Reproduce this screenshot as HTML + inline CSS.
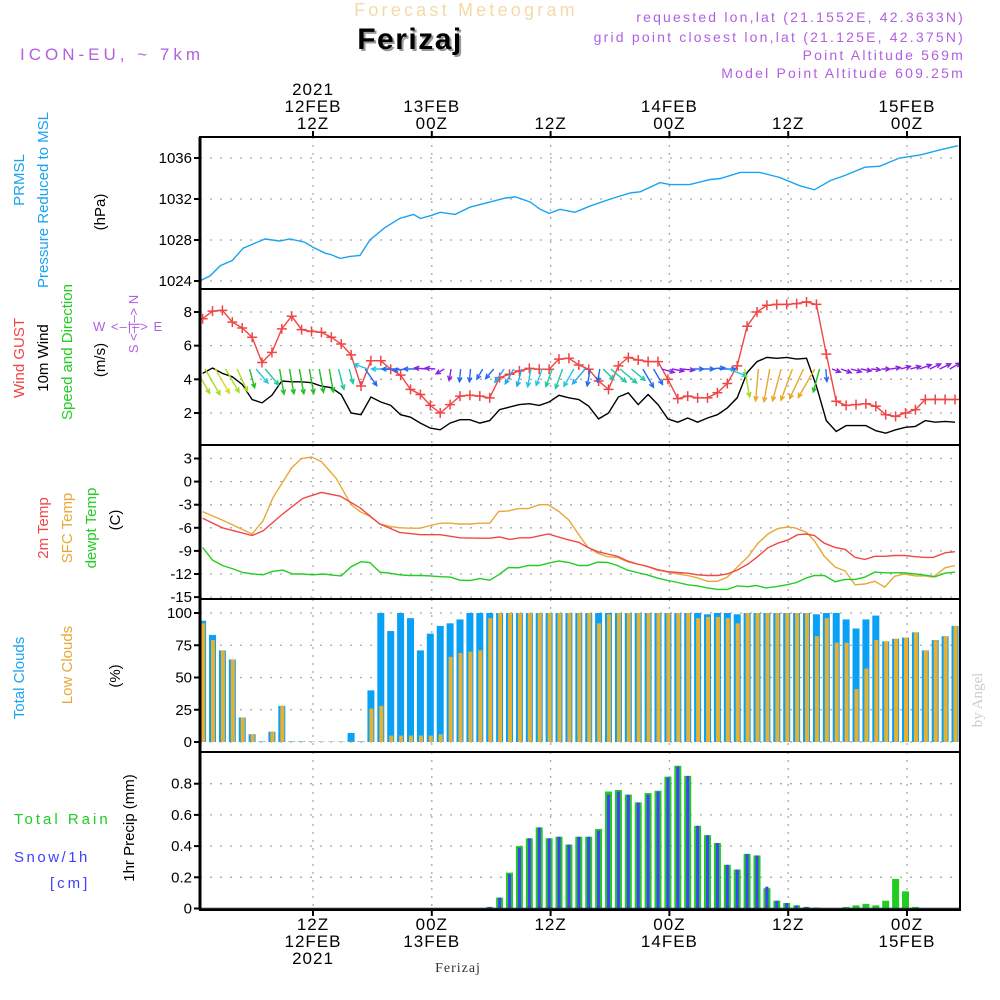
<!DOCTYPE html>
<html><head><meta charset="utf-8"><style>
body{margin:0;background:#fff;}
svg{display:block;font-family:"Liberation Sans",sans-serif;}
</style></head><body>
<svg id="chart" width="1000" height="1000" viewBox="0 0 1000 1000" xmlns="http://www.w3.org/2000/svg">
<text x="466" y="16" text-anchor="middle" font-size="18" fill="#f5d9a8" letter-spacing="3.2">Forecast Meteogram</text>
<text x="412" y="51" text-anchor="middle" font-size="30" font-weight="bold" fill="#999" letter-spacing="1.5">Ferizaj</text>
<text x="410" y="49" text-anchor="middle" font-size="30" font-weight="bold" fill="#000" letter-spacing="1.5">Ferizaj</text>
<text x="20" y="60" font-size="17" fill="#b060e0" letter-spacing="4">ICON-EU, ~ 7km</text>
<g font-size="14" fill="#b060e0" text-anchor="end" letter-spacing="2.2">
<text x="965" y="22">requested lon,lat (21.1552E, 42.3633N)</text>
<text x="965" y="42">grid point closest lon,lat (21.125E, 42.375N)</text>
<text x="965" y="60">Point Altitude 569m</text>
<text x="965" y="78">Model Point Altitude 609.25m</text>
</g>
<text x="982" y="700" font-size="15" fill="#ccc" font-family="Liberation Serif,serif" transform="rotate(-90 982 700)" text-anchor="middle">by Angel</text>
<text x="458" y="972" text-anchor="middle" font-size="14" font-family="Liberation Serif,serif" fill="#333" letter-spacing="1">Ferizaj</text>
<g id="labels" font-size="15"></g>
<g id="plot"></g>
</svg>
<script>
// ---------- DATA ----------
const H0 = 0.85; // hour of index 0 (hours since 12FEB 00Z)
const tickHours = [12, 24, 36, 48, 60, 72];
const topTickLabels = [["2021","12FEB","12Z"],["13FEB","00Z"],["12Z"],["14FEB","00Z"],["12Z"],["15FEB","00Z"]];
const bottomTickLabels = [["12Z","12FEB","2021"],["00Z","13FEB"],["12Z"],["00Z","14FEB"],["12Z"],["00Z","15FEB"]];

const presIdx = [-0.3,0.75,1.8,3,4.1,5.3,6.3,7.8,8.8,10.3,11.15,12.4,12.9,13.9,14.9,15.9,16.9,18.4,19.9,21.3,22,23.1,24,25.5,27,29,30.6,31.6,33.1,34.1,35,36.1,37.6,39.1,41.2,43.2,44.2,46.2,47.2,49.2,51.3,52.3,54.3,56.3,58.3,60.3,61.8,63.4,64.9,66.9,68.4,70.4,72.5,74.5,76.3];
const presVals = [1024.0,1024.5,1025.5,1026.0,1027.2,1027.7,1028.1,1027.9,1028.1,1027.8,1027.3,1026.7,1026.6,1026.2,1026.4,1026.5,1028.0,1029.2,1030.1,1030.5,1030.1,1030.4,1030.7,1030.5,1031.2,1031.7,1032.1,1032.2,1031.7,1031.0,1030.6,1031.0,1030.7,1031.3,1032.0,1032.6,1032.7,1033.6,1033.4,1033.4,1033.9,1034.0,1034.6,1034.6,1034.1,1033.3,1032.9,1033.8,1034.3,1035.1,1035.2,1036.0,1036.3,1036.8,1037.2];

const gustVals = [7.6,8.05,8.1,7.4,7.05,6.5,5.0,5.6,7.0,7.75,6.95,6.85,6.8,6.5,6.1,5.45,3.6,5.1,5.1,4.6,4.25,3.4,3.1,2.45,2.0,2.5,3.0,3.05,3.0,2.9,4.1,4.3,4.5,4.65,4.6,4.6,5.2,5.25,4.85,
4.6,3.9,3.4,4.8,5.3,5.15,5.05,5.05,4.0,2.85,3.0,2.9,2.9,3.2,3.75,4.8,7.15,8.0,8.4,8.45,8.45,8.5,8.6,8.45,5.5,2.7,2.45,2.5,2.55,2.4,1.9,1.8,2.0,2.2,2.8,2.8,2.8,2.8];
const windVals = [4.35,4.67,4.35,4.15,3.7,2.8,2.6,3.05,3.9,3.85,3.85,3.8,3.6,3.5,3.1,2.0,1.9,2.95,2.65,2.45,1.9,1.75,1.4,1.1,1.0,1.4,1.6,1.6,1.4,1.55,2.2,2.35,2.5,2.55,2.45,2.65,3.05,2.9,2.8,
2.4,1.65,2.0,2.95,3.2,2.5,3.1,2.5,1.65,1.45,1.7,1.45,1.7,1.9,2.3,2.9,4.4,5.05,5.3,5.25,5.3,5.2,5.25,3.6,1.55,0.9,1.25,1.25,1.25,0.95,0.8,1.0,1.15,1.2,1.55,1.45,1.5,1.45];
const windToAngle = [60,60,60,60,65,75,50,50,80,80,80,80,80,80,75,75,200,55,180,180,175,180,185,185,150,100,95,95,120,130,125,120,105,100,110,110,110,120,130,100,100,45,40,40,40,60,60,15,10,5,0,0,-5,0,20,80,95,100,105,110,115,120,105,85,20,20,15,10,5,0,-10,-15,-15,-20,-25,-25,-30];
const windClass = "AAYAAGCTGGGGGGTTCBCBBBPPPPBBBBLLLCCTTCLBBTTTTBBPPPBBBBCAOOOOOOGBPPPPPPPPPPPPP";

const t2Idx = [0,2,5,6.1,8.1,10.1,12,13.9,15.9,17.9,19.9,22,24,26,28,29,30,31,32.1,33.1,34.9,36.8,38,38.9,39.9,40.9,41.9,42.9,43.9,44.9,45.9,47,48,49,50,51,52,53,54,55.1,56.1,57.1,58.1,59.1,60.1,61,61.8,62.8,63.9,64.9,65.9,66.9,67.9,68.9,69.9,70.9,72,73,73.8,75,76];
const t2Vals = [-4.76,-6.0,-7.0,-6.4,-4.2,-2.2,-1.4,-1.9,-3.4,-5.5,-6.6,-6.9,-6.9,-7.3,-7.35,-7.35,-7.2,-7.5,-7.3,-7.3,-6.8,-7.5,-7.9,-8.55,-9.1,-9.4,-9.7,-10.3,-10.7,-11.0,-11.4,-11.7,-11.8,-11.9,-12.1,-12.2,-12.2,-12.0,-11.5,-10.7,-9.7,-8.6,-8.0,-7.6,-6.9,-6.8,-7.0,-8.0,-8.55,-8.8,-9.85,-10.1,-9.7,-9.7,-9.6,-9.6,-9.75,-9.85,-9.85,-9.25,-9.1];
const sfcIdx = [0,2,5,6.1,7.1,9,10,11,12,13.5,15,15.9,16.9,17.9,18.9,19.9,20.9,22,23,24,25,26,27,28,29,29.9,30.9,31.9,32.9,34,34.9,36,37,38,
38.9,39.9,40.9,41.9,42.9,43.9,44.9,45.9,47,48,49,50,51,52,53,54,55.1,56.1,57.1,58.1,59.1,59.8,61,61.8,62.8,63.9,64.9,65.9,66.9,67.9,68.9,69.9,70.9,72,73,73.8,75,76];
const sfcVals = [-3.9,-5.0,-6.8,-5.1,-2.1,1.8,3.0,3.2,2.6,0.4,-3.0,-3.9,-4.5,-5.5,-5.8,-6.0,-6.05,-6.05,-5.7,-5.4,-5.4,-5.5,-5.5,-5.4,-5.4,-3.9,-3.8,-3.5,-3.5,-3.0,-3.0,-3.9,-5.0,-6.9,
-8.5,-9.3,-9.75,-9.85,-10.4,-10.7,-11.0,-11.5,-11.75,-12.0,-12.2,-12.5,-12.95,-12.95,-12.4,-11.1,-9.75,-8.0,-6.8,-6.1,-5.9,-6.0,-6.6,-7.7,-9.7,-11.1,-11.6,-13.4,-13.3,-12.95,-13.7,-12.3,-12.0,-12.25,-12.25,-12.4,-11.2,-10.9];
const dewIdx = [0,1,2,3,4.05,5.07,6.1,7.1,8.1,9.1,10.1,11.1,12.2,13.2,14,15,16,16.9,17.9,18.9,19.9,20.9,22,23,24,25,26,27,28,29,29.9,30.9,31.9,32.9,34,34.9,36,37,38,
38.9,39.9,40.9,41.9,42.9,43.9,44.9,45.9,47,48,49,50,51,52,53,54,55.1,55.9,56.9,57.9,59,60,61,61.8,62.8,63.9,64.9,65.9,66.9,67.9,68.9,69.9,70.9,72,73,74,75,76];
const dewVals = [-8.55,-10.2,-10.9,-11.3,-11.8,-12.0,-12.1,-11.65,-11.5,-12.0,-12.0,-12.1,-12.0,-12.15,-12.25,-11.05,-10.4,-10.5,-11.75,-11.9,-12.1,-12.2,-12.2,-12.25,-12.35,-12.4,-12.8,-12.85,-12.6,-12.8,-12.1,-11.15,-11.2,-10.9,-10.9,-10.6,-10.3,-10.5,-10.9,
-10.9,-10.45,-10.5,-10.9,-11.5,-11.8,-12.1,-12.5,-12.85,-13.1,-13.4,-13.55,-13.8,-14.0,-14.0,-13.55,-13.65,-13.5,-13.8,-13.65,-13.4,-13.1,-12.5,-12.2,-12.2,-13.0,-12.7,-12.7,-12.4,-11.75,-11.85,-11.85,-11.85,-12.0,-12.15,-12.35,-11.9,-11.75];

const totalClouds = [94,83,71,64,19,6,0.5,8,28,0.5,0.5,0.3,0.3,0.3,0.3,7,0.5,40,100,86,100,96,71,84,90,92,95,100,100,100,100,100,100,100,100,100,100,100,100,100,100,100,100,100,100,100,100,100,100,100,100,99,100,100,99,100,100,100,100,100,100,100,99,100,100,95,88,95,98,78,80,81,85,71,79,82,90];
const lowClouds = [92,79,71,64,19,6,0.3,8,28,0.3,0.3,0.3,0.3,0.3,0.3,0.3,0.3,26,28,5,5,5,5,5,6,66,69,70,71,96,100,100,100,100,100,100,100,100,100,100,92,99,100,100,100,100,100,100,100,100,96,97,97,96,92,100,100,100,100,100,100,100,82,96,77,77,41,57,79,78,80,81,85,71,79,82,90];

const totalPrecip = [0,0,0,0,0,0,0,0,0,0,0,0,0,0,0,0,0,0,0,0,0,0,0,0,0,0,0,0,0,0.01,0.07,0.23,0.40,0.45,0.52,0.45,0.46,0.41,0.46,0.46,0.51,0.75,0.76,0.73,0.68,0.74,0.755,0.845,0.915,0.85,0.53,0.47,0.42,0.28,0.25,0.35,0.34,0.13,0.05,0.035,0.02,0.01,0.006,0,0,0.01,0.02,0.03,0.02,0.05,0.19,0.11,0.01,0,0.003,0,0];
const snowPrecip = [0,0,0,0,0,0,0,0,0,0,0,0,0,0,0,0,0,0,0,0,0,0,0,0,0,0,0,0,0,0.01,0.07,0.22,0.39,0.45,0.52,0.45,0.46,0.41,0.46,0.46,0.5,0.73,0.75,0.73,0.68,0.73,0.75,0.84,0.91,0.85,0.53,0.47,0.42,0.28,0.25,0.35,0.34,0.14,0.05,0.035,0.02,0.01,0.006,0,0,0,0,0,0,0,0,0,0,0,0.003,0,0];

const presTicks=[1024,1028,1032,1036], windTicks=[2,4,6,8], tempTicks=[3,0,-3,-6,-9,-12,-15], cloudTicks=[0,25,50,75,100], precipTicks=[0,0.2,0.4,0.6,0.8];
const precipTickLabels=["0","0.2","0.4","0.6","0.8"];

// ---------- SCALES ----------
const X0=200, X1=960;
const xIdx = i => 313 + (i + H0 - 12) * 9.9;
const xHour = h => 313 + (h - 12) * 9.9;
const yP = v => 281 - (v - 1024) * 10.25;
const yW = v => 312 - (v - 8) * 16.83;
const yT = v => 458.5 + (3 - v) * 7.7;
const yC = v => 742 - v * 1.29;
const yR = v => 908.5 - v * 156;
const panels = [[137,289],[289,445],[445,599],[599,752],[752,910]];

const NS="http://www.w3.org/2000/svg";
const plot=document.getElementById('plot');
function mk(tag, attrs, parent){const e=document.createElementNS(NS,tag);for(const k in attrs)e.setAttribute(k,attrs[k]);(parent||plot).appendChild(e);return e;}

const defs=mk('defs',{});
panels.forEach((p,i)=>{const c=mk('clipPath',{id:'clip'+i},defs);mk('rect',{x:X0,y:p[0],width:X1-X0,height:p[1]-p[0]},c);});

function hgrid(vals, ys, pi, labels){
  vals.forEach((v,k)=>{
    const y=ys(v);
    const g=mk('line',{x1:X0,x2:X1,y1:y,y2:y,stroke:'#aaa','stroke-width':1.3,'stroke-dasharray':'2 8'});
    
    
    mk('line',{x1:X0-6,x2:X0,y1:y,y2:y,stroke:'#000','stroke-width':2});
    const t=mk('text',{x:X0-8,y:y+5,'text-anchor':'end','font-size':15,fill:'#000'});
    t.textContent=labels?labels[k]:String(v);
    
    
  });
}
hgrid(presTicks,yP,0);hgrid(windTicks,yW,1);hgrid(tempTicks,yT,2);hgrid(cloudTicks,yC,3);hgrid(precipTicks,yR,4,precipTickLabels);
tickHours.forEach(h=>{
  const x=xHour(h);
  panels.forEach(p=>{
    const g=mk('line',{x1:x,x2:x,y1:p[0],y2:p[1],stroke:'#aaa','stroke-width':1.3,'stroke-dasharray':'2 6'});
    
    
  });
  mk('line',{x1:x,x2:x,y1:131,y2:137,stroke:'#000','stroke-width':2});
  mk('line',{x1:x,x2:x,y1:910,y2:916,stroke:'#000','stroke-width':2});
});
tickHours.forEach((h,k)=>{
  const x=xHour(h);
  const tl=topTickLabels[k];
  tl.forEach((s,r)=>{
    const t=mk('text',{x:x,y:129-(tl.length-1-r)*17,'text-anchor':'middle','font-size':17,'letter-spacing':1});
    t.textContent=s;
    
    
  });
  bottomTickLabels[k].forEach((s,r)=>{
    const t=mk('text',{x:x,y:930+r*17,'text-anchor':'middle','font-size':17,'letter-spacing':1});
    t.textContent=s;
    
    
  });
});

function poly(xs, vals, ys, color, clip, name, w){
  const pts=vals.map((v,i)=>xs(i).toFixed(1)+','+ys(v).toFixed(1)).join(' ');
  const p=mk('polyline',{points:pts,fill:'none',stroke:color,'stroke-width':w||1.4,'clip-path':'url(#clip'+clip+')'});
  
  
  return p;
}
poly(i=>xIdx(presIdx[i]),presVals,yP,'#1aa3f0',0,'pressure-line');
poly(i=>xIdx(i),windVals,yW,'#000',1,'wind-speed-line');
poly(i=>xIdx(i),gustVals,yW,'#f04545',1,'wind-gust-line');
gustVals.forEach((v,i)=>{
  const x=xIdx(i),y=yW(v);
  const m=mk('path',{d:`M${x-5},${y}H${x+5}M${x},${y-5}V${y+5}`,stroke:'#f04545','stroke-width':1.5,'clip-path':'url(#clip1)'});
  
  
});
const arrowColors={A:'#a8dc20',Y:'#d8d830',G:'#22c020',T:'#20c8a0',C:'#20c8e0',L:'#20a8f0',B:'#2868f0',P:'#8a20e0',O:'#e8a828'};
windToAngle.forEach((a,i)=>{
  const L=4+windVals[i]*5.5, r=a*Math.PI/180;
  const dx=Math.cos(r)*L, dy=Math.sin(r)*L;
  const x0=xIdx(i)-dx/2, y0=369, x1=x0+dx, y1=y0+dy;
  const hl=5, b1=r+Math.PI-0.45, b2=r+Math.PI+0.45;
  const c=arrowColors[windClass[i]]||'#2868f0';
  const ar=mk('path',{d:`M${x0.toFixed(1)},${y0}L${x1.toFixed(1)},${y1.toFixed(1)}M${(x1+Math.cos(b1)*hl).toFixed(1)},${(y1+Math.sin(b1)*hl).toFixed(1)}L${x1.toFixed(1)},${y1.toFixed(1)}L${(x1+Math.cos(b2)*hl).toFixed(1)},${(y1+Math.sin(b2)*hl).toFixed(1)}`,stroke:c,'stroke-width':1.4,fill:'none','clip-path':'url(#clip1)'});
  
  
});
poly(i=>xIdx(sfcIdx[i]),sfcVals,yT,'#e8a838',2,'sfc-temp-line');
poly(i=>xIdx(t2Idx[i]),t2Vals,yT,'#f04848',2,'2m-temp-line');
poly(i=>xIdx(dewIdx[i]),dewVals,yT,'#22cc22',2,'dewpoint-line');
totalClouds.forEach((v,i)=>{
  const x=xIdx(i);
  const b=mk('rect',{x:x-3.5,y:yC(v),width:7,height:yC(0)-yC(v),fill:'#0aa0f5','clip-path':'url(#clip3)'});
  
  
  const l=mk('rect',{x:x-1.5,y:yC(lowClouds[i]),width:4,height:yC(0)-yC(lowClouds[i]),fill:'#e8b030','clip-path':'url(#clip3)'});
  
  
});
totalPrecip.forEach((v,i)=>{
  const x=xIdx(i);
  const b=mk('rect',{x:x-3.5,y:yR(v),width:7,height:yR(0)-yR(v),fill:'#22cc22','clip-path':'url(#clip4)'});
  
  
  const s=mk('rect',{x:x-1.5,y:yR(snowPrecip[i]),width:3,height:yR(0)-yR(snowPrecip[i]),fill:'#4040ff','clip-path':'url(#clip4)'});
  
  
});
mk('line',{x1:X0,x2:X1,y1:908.5,y2:908.5,stroke:'#223',"stroke-width":1.5});
panels.forEach(p=>{
  const f=mk('rect',{x:X0,y:p[0],width:X1-X0,height:p[1]-p[0],fill:'none',stroke:'#000','stroke-width':2});
  
  
});
mk('line',{x1:X0,x2:X0,y1:137,y2:910,stroke:'#000','stroke-width':3});

const lab=document.getElementById('labels');
function vlabel(x,y,txt,color,name,size){
  const t=mk('text',{x:x,y:y,transform:`rotate(-90 ${x} ${y})`,'text-anchor':'middle',fill:color,'font-size':size||15},lab);
  t.textContent=txt;
  
  
}
function hlabel(x,y,txt,color,name,size,ls){
  const t=mk('text',{x:x,y:y,fill:color,'font-size':size||15,'letter-spacing':ls||0},lab);
  t.textContent=txt;
  
  
}
vlabel(24,180,'PRMSL','#1aa3f0','pressure-label');
vlabel(48,200,'Pressure Reduced to MSL','#1aa3f0','pressure-label-2');
vlabel(105,212,'(hPa)','#000','pressure-unit');
vlabel(24,358,'Wind GUST','#f04545','gust-label');
vlabel(48,358,'10m Wind','#000','wind-label');
vlabel(72,352,'Speed and Direction','#22cc22','wind-dir-label');
vlabel(105,360,'(m/s)','#000','wind-unit');
vlabel(138,324,'S <–|–> N','#b060e0','compass-ns',13);
hlabel(93,331,'W  <–|–>  E','#b060e0','compass-we',13,1);
vlabel(48,528,'2m Temp','#f04848','t2m-label');
vlabel(72,528,'SFC Temp','#e8a838','sfc-temp-label');
vlabel(96,528,'dewpt Temp','#22cc22','dewpt-label');
vlabel(120,520,'(C)','#000','temp-unit');
vlabel(24,678,'Total Clouds','#1aa3f0','total-cloud-label');
vlabel(72,665,'Low Clouds','#e8a838','low-cloud-label');
vlabel(120,676,'(%)','#000','cloud-unit');
hlabel(14,824,'Total  Rain','#22cc22','rain-label',15,3);
hlabel(14,862,'Snow/1h','#4040ff','snow-label',15,2.5);
hlabel(50,888,'[cm]','#4040ff','snow-unit',15,3);
vlabel(134,828,'1hr Precip (mm)','#000','precip-unit');
</script>
</body></html>
